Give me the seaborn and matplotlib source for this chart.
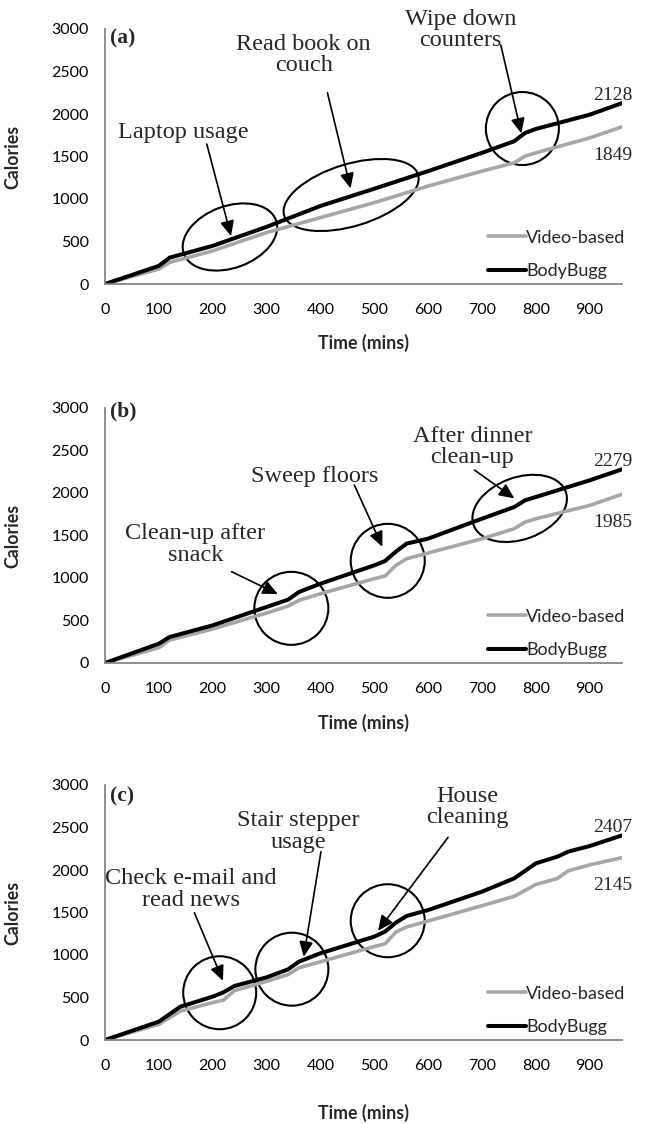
import numpy as np
import pandas as pd
import matplotlib
matplotlib.use("Agg")
import matplotlib.pyplot as plt
import matplotlib.transforms as mtransforms
from matplotlib.patches import Ellipse
import seaborn as sns

# ---------------- data ----------------
time_a = [0, 100, 120, 200, 300, 400, 500, 600, 700, 760, 780, 800, 900, 960]
bodybugg_a = [0, 213, 310, 449, 672, 918, 1121, 1328, 1543, 1680, 1777, 1824, 1992, 2128]
video_a = [0, 176, 254, 390, 605, 781, 957, 1152, 1328, 1426, 1504, 1543, 1719, 1849]

time_b = [0, 100, 120, 200, 300, 340, 360, 400, 500, 520, 540, 560, 600, 700, 760, 780, 800, 900, 960]
bodybugg_b = [0, 227, 306, 443, 659, 745, 835, 933, 1149, 1200, 1310, 1404, 1463, 1698, 1835, 1914, 1953, 2149, 2279]
video_b = [0, 180, 270, 400, 588, 670, 737, 815, 992, 1023, 1149, 1227, 1294, 1462, 1580, 1658, 1697, 1854, 1985]

time_c = [0, 100, 140, 200, 220, 240, 300, 340, 360, 400, 500, 520, 540, 560, 600, 700, 760, 800, 840, 860, 900, 960]
bodybugg_c = [0, 216, 392, 510, 561, 635, 737, 831, 922, 1020, 1216, 1275, 1380, 1459, 1529, 1745, 1902, 2078, 2157, 2216, 2282, 2407]
video_c = [0, 185, 340, 440, 470, 580, 690, 770, 850, 920, 1100, 1130, 1270, 1330, 1400, 1580, 1690, 1830, 1900, 1990, 2060, 2145]

series_names = ["Video-based", "BodyBugg"]
panel_labels = ["(a)", "(b)", "(c)"]
end_labels_a = ["2128", "1849"]
end_labels_b = ["2279", "1985"]
end_labels_c = ["2407", "2145"]
x_ticks = [0, 100, 200, 300, 400, 500, 600, 700, 800, 900]
y_ticks = [0, 500, 1000, 1500, 2000, 2500, 3000]

# ---------------- style ----------------
sns.set_theme(style="white")
plt.rcParams["font.family"] = ["Lato", "DejaVu Sans"]
SERIF = ["Liberation Serif", "DejaVu Serif"]
AXCOL = "#868686"
GRAY = "#A6A6A6"

W, H = 647, 1124
fig = plt.figure(figsize=(W / 100, H / 100), dpi=100)

left = 105 / W
width = 517 / W
ax_h = 255 / H
bottoms_px = [284, 663, 1040]
axes = [fig.add_axes([left, 1 - b / H, width, ax_h]) for b in bottoms_px]

panels = [
    (time_a, video_a, bodybugg_a, end_labels_a),
    (time_b, video_b, bodybugg_b, end_labels_b),
    (time_c, video_c, bodybugg_c, end_labels_c),
]

for ax, (t, vid, bb, ends) in zip(axes, panels):
    df = pd.DataFrame({
        "Time": list(t) + list(t),
        "Calories": list(vid) + list(bb),
        "Series": [series_names[0]] * len(t) + [series_names[1]] * len(t),
    })
    sns.lineplot(data=df[df.Series == series_names[0]], x="Time", y="Calories",
                 color=GRAY, lw=2.6, ax=ax, label=series_names[0])
    sns.lineplot(data=df[df.Series == series_names[1]], x="Time", y="Calories",
                 color="black", lw=2.9, ax=ax, label=series_names[1])
    ax.set_xlim(0, 960)
    ax.set_ylim(0, 3000)
    ax.set_xticks(x_ticks)
    ax.set_yticks(y_ticks)
    for s in ["top", "right"]:
        ax.spines[s].set_visible(False)
    for s in ["left", "bottom"]:
        ax.spines[s].set_color(AXCOL)
        ax.spines[s].set_linewidth(1.3)
    ax.tick_params(axis="both", direction="out", length=4, width=1.2, color=AXCOL,
                   labelsize=11.5, labelcolor="black")
    ax.tick_params(axis="x", pad=10)
    ax.tick_params(axis="y", pad=7.5)
    ax.set_ylabel("Calories", fontsize=12.8, fontweight="bold")
    ax.set_xlabel("Time (mins)", fontsize=12.8, fontweight="bold")
    ax.yaxis.set_label_coords(-0.162, 0.5)
    ax.legend(loc="upper left", bbox_to_anchor=(0.74, 0.2125), frameon=False,
              fontsize=13, handlelength=2.15, handletextpad=0.0,
              labelspacing=0.95, borderpad=0, borderaxespad=0)
    # end value labels
    ax.text(979, bb[-1] + 95, ends[0], ha="right", va="center",
            fontsize=14, family=SERIF, clip_on=False)
    ax.text(979, vid[-1] - 332, ends[1], ha="right", va="center",
            fontsize=14, family=SERIF, clip_on=False)

axes[0].xaxis.set_label_coords(0.5, -0.196)
axes[1].xaxis.set_label_coords(0.5, -0.2)
axes[2].xaxis.set_label_coords(0.5, -0.251)

# panel labels
for ax, lab, y in zip(axes, panel_labels, [2889, 2955, 2861]):
    ax.text(9, y, lab, ha="left", va="center", fontsize=15.5, fontweight="bold",
            family=SERIF)

TXT = 17.5


def note(ax, x, y, s):
    ax.text(x, y, s, ha="center", va="center", fontsize=TXT, family=SERIF,
            linespacing=1.05, clip_on=False)


def arrow(ax, start, end):
    ax.annotate("", xy=end, xytext=start,
                arrowprops=dict(arrowstyle="-|>,head_length=0.65,head_width=0.3",
                                color="black", lw=1.2, mutation_scale=14,
                                shrinkA=0, shrinkB=0))


def ring(ax, cx, cy, w_px, h_px, angle=0):
    tr = fig.dpi_scale_trans + mtransforms.ScaledTranslation(cx, cy, ax.transData)
    e = Ellipse((0, 0), w_px / 100, h_px / 100, angle=angle, transform=tr,
                fill=False, ec="black", lw=1.5, clip_on=False)
    ax.add_patch(e)


# panel (a)
ax = axes[0]
note(ax, 145, 1788, "Laptop usage")
arrow(ax, (189, 1646), (234, 564))
ring(ax, 232, 553, 98, 62, 20)
note(ax, 369, 2693, "Read book on\ncouch")
arrow(ax, (413, 2250), (456, 1125))
ring(ax, 457, 1047, 140, 62, 17)
note(ax, 660, 2988, "Wipe down\ncounters")
arrow(ax, (735, 2811), (773, 1772))
ring(ax, 775, 1829, 73, 73)

# panel (b)
ax = axes[1]
note(ax, 168, 1398, "Clean-up after\nsnack")
arrow(ax, (235, 1074), (321, 811))
ring(ax, 346, 643, 74, 73)
note(ax, 390, 2191, "Sweep floors")
arrow(ax, (463, 2093), (515, 1368))
ring(ax, 525, 1202, 74, 74)
note(ax, 682, 2540, "After dinner\nclean-up")
arrow(ax, (686, 2270), (760, 1937))
ring(ax, 770, 1819, 98, 62, 20)

# panel (c)
ax = axes[2]
note(ax, 160, 1772, "Check e-mail and\nread news")
arrow(ax, (166, 1497), (219, 697))
ring(ax, 213, 556, 73, 73)
note(ax, 359, 2456, "Stair stepper\nusage")
arrow(ax, (401, 2215), (369, 980))
ring(ax, 347, 833, 73, 73)
note(ax, 672, 2740, "House\ncleaning")
arrow(ax, (637, 2384), (507, 1286))
ring(ax, 525, 1403, 74, 73)

fig.savefig("out.png", dpi=100)
